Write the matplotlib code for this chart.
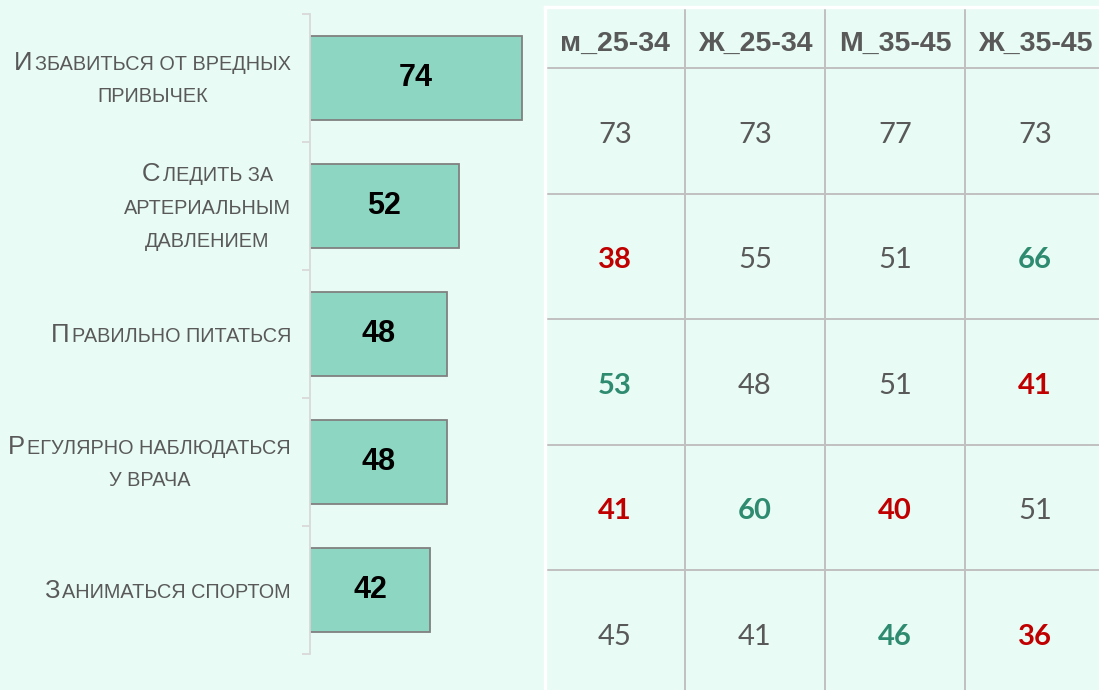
import matplotlib.pyplot as plt
from matplotlib.transforms import IdentityTransform

# left chart: share of respondents, %
categories = [
    ['Избавиться от вредных', 'привычек'],
    ['Следить за', 'артериальным', 'давлением'],
    ['Правильно питаться'],
    ['Регулярно наблюдаться', 'у врача'],
    ['Заниматься спортом'],
]
totals = [74, 52, 48, 48, 42]

# right table: values by sex / age group
groups = ['м_25-34', 'Ж_25-34', 'М_35-45', 'Ж_35-45']
group_values = [
    [73, 73, 77, 73],
    [38, 55, 51, 66],
    [53, 48, 51, 41],
    [41, 60, 40, 51],
    [45, 41, 46, 36],
]
# 1 = above total, -1 = below total, 0 = no difference
group_marks = [
    [0, 0, 0, 0],
    [-1, 0, 0, 1],
    [1, 0, 0, -1],
    [-1, 1, -1, 0],
    [0, 0, 1, -1],
]

W, H = 1099, 690
BG = '#e8fbf4'
TXT = '#595959'
GRID = '#c0c0c0'
BAR = '#8dd7c2'
mark_color = {0: TXT, 1: '#2e8b6f', -1: '#c00000'}

fig = plt.figure(figsize=(W / 100, H / 100), dpi=100, facecolor=BG)
renderer = fig.canvas.get_renderer()

# bars
ax = fig.add_axes([310 / W, 1 - 654 / H, 235 / W, 640 / H])
ax.set_facecolor('none')
ypos = list(range(len(totals)))
bars = ax.barh(ypos, totals, height=0.66, color=BAR, edgecolor='#808080', linewidth=1.3)
ax.set_xlim(0, 235 / 2.86)
ax.set_ylim(len(totals) - 0.5, -0.5)
ax.bar_label(bars, label_type='center', fontsize=22, fontweight='bold',
             family='Liberation Sans', color='black')
for side in ['top', 'right', 'bottom']:
    ax.spines[side].set_visible(False)
ax.spines['left'].set_color('#d9d9d9')
ax.spines['left'].set_linewidth(1.3)
ax.set_xticks([])
ax.set_yticks([i - 0.5 for i in range(len(totals) + 1)])
ax.set_yticklabels([])
ax.tick_params(axis='y', length=6, width=1.3, color='#d9d9d9')


def small_caps_label(lines, right_x, cy, big=18.5, small=14.3, step=33):
    """draws a label like Excel small caps, first letter bigger"""
    rows = []
    for k, line in enumerate(lines):
        if k == 0:
            parts = [(line[0], big), (line[1:].upper(), small)]
        else:
            parts = [(line.upper(), small)]
        texts = [fig.text(0, 0, s, fontsize=fs, color=TXT, family='Liberation Sans',
                          transform=IdentityTransform(), va='baseline', ha='left')
                 for s, fs in parts]
        widths = [t.get_window_extent(renderer).width for t in texts]
        if len(widths) > 1:
            widths[0] += 2.5
        rows.append((texts, widths))
    block_w = max(sum(w) for _, w in rows)
    cx = right_x - block_w / 2
    n = len(lines)
    for k, (texts, widths) in enumerate(rows):
        base = cy - (k - (n - 1) / 2) * step - 8
        x = cx - sum(widths) / 2
        for t, w in zip(texts, widths):
            t.set_position((x, base))
            x += w


for i, lines in enumerate(categories):
    _, cy = ax.transData.transform((0, i))
    small_caps_label(lines, 291, cy)

# table
COL_W, HDR_H, ROW_H = 140, 61, 125.5
t_left, t_top = 545, 7
t_w = COL_W * len(groups)
t_h = HDR_H + ROW_H * len(group_values)
tax = fig.add_axes([t_left / W, 1 - (t_top + t_h) / H, t_w / W, t_h / H])
tax.set_xlim(0, t_w)
tax.set_ylim(t_h, 0)
tax.axis('off')

for c in range(1, len(groups)):
    tax.axvline(c * COL_W, color=GRID, lw=1.4, clip_on=False)
for r in range(len(group_values)):
    tax.axhline(HDR_H + r * ROW_H, color=GRID, lw=1.4, clip_on=False)
tax.axvline(0, color='white', lw=2.5, clip_on=False)
tax.axhline(0, color='white', lw=2.5, clip_on=False)

for c, name in enumerate(groups):
    tax.text(c * COL_W + COL_W / 2, HDR_H / 2 + 13.5, name, ha='center', va='baseline',
             fontsize=20.5, fontweight='bold', color=TXT, family='Liberation Sans')

for r, row in enumerate(group_values):
    for c, val in enumerate(row):
        m = group_marks[r][c]
        tax.text(c * COL_W + COL_W / 2, HDR_H + r * ROW_H + ROW_H / 2 + 12, str(val),
                 ha='center', va='baseline', fontsize=21, family='Lato',
                 fontweight='bold' if m else 'normal', color=mark_color[m])

fig.savefig('out.png', dpi=100, facecolor=BG)
